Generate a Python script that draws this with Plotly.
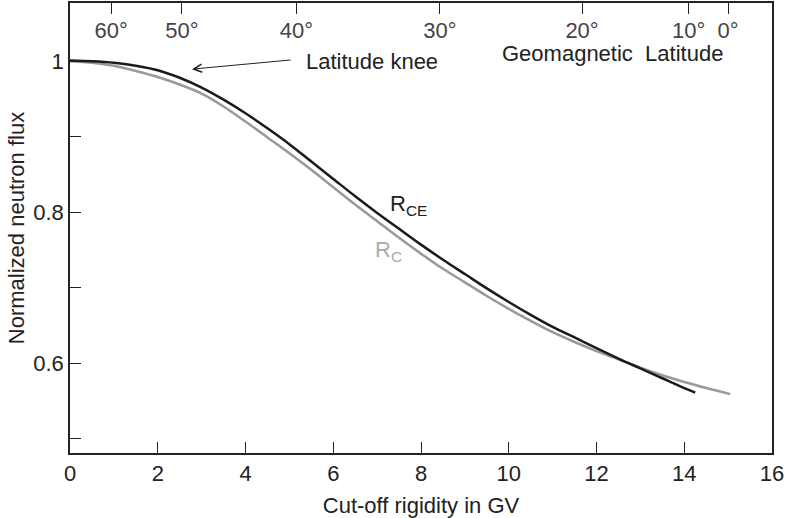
import plotly.graph_objects as go

# Cut-off rigidity (GV) and normalized neutron flux
rce_x = [0, 0.5, 1.0, 1.5, 2.0, 2.5, 3.0, 3.5, 4.0, 4.5, 5.0, 5.5, 6.0, 6.5, 7.0, 7.5,
         8.0, 8.5, 9.0, 9.5, 10.0, 10.5, 11.0, 11.5, 12.0, 12.5, 13.0, 13.5, 14.0, 14.25]
rce_y = [1.001, 1.000, 0.998, 0.994, 0.988, 0.978, 0.965, 0.949, 0.931, 0.911, 0.890, 0.867,
         0.844, 0.821, 0.799, 0.778, 0.757, 0.737, 0.718, 0.699, 0.681, 0.664, 0.648, 0.634,
         0.620, 0.606, 0.593, 0.580, 0.567, 0.561]

rc_x = [0, 0.5, 1.0, 1.5, 2.0, 2.5, 3.0, 3.5, 4.0, 4.5, 5.0, 5.5, 6.0, 6.5, 7.0, 7.5,
        8.0, 8.5, 9.0, 9.5, 10.0, 10.5, 11.0, 11.5, 12.0, 12.5, 13.0, 13.5, 14.0, 14.5, 15.05]
rc_y = [1.000, 0.998, 0.994, 0.987, 0.979, 0.969, 0.957, 0.940, 0.920, 0.899, 0.878, 0.856,
        0.833, 0.810, 0.788, 0.766, 0.745, 0.725, 0.707, 0.689, 0.672, 0.656, 0.641, 0.628,
        0.616, 0.605, 0.594, 0.584, 0.575, 0.567, 0.559]

# Geomagnetic latitude scale (top)
lat_pos = [0.94, 2.55, 5.16, 8.43, 11.67, 14.1, 15.0]
lat_labels = ["60°", "50°", "40°", "30°", "20°", "10°", "0°"]

x_ticks = [0, 2, 4, 6, 8, 10, 12, 14, 16]
y_ticks = [0.6, 0.8, 1.0]
y_labels = ["0.6", "0.8", "1"]
y_minor = [0.5, 0.7, 0.9]

FONT = "Liberation Sans, Arial, sans-serif"
TXT = "#222222"
FS = 22

fig = go.Figure()
fig.add_trace(go.Scatter(x=rc_x, y=rc_y, mode="lines", line=dict(color="#999999", width=2.5, shape="spline", smoothing=0.8),
                         showlegend=False, hoverinfo="skip"))
fig.add_trace(go.Scatter(x=rce_x, y=rce_y, mode="lines", line=dict(color="#1a1a1a", width=2.5, shape="spline", smoothing=0.8),
                         showlegend=False, hoverinfo="skip"))
# invisible trace for top axis
fig.add_trace(go.Scatter(x=[0, 16], y=[0.5, 0.5], xaxis="x2", mode="lines",
                         line=dict(width=0), showlegend=False, hoverinfo="skip", opacity=0))

fig.update_layout(
    width=786, height=518,
    margin=dict(l=70, r=14, t=3, b=65),
    plot_bgcolor="white", paper_bgcolor="white",
    font=dict(family=FONT, size=FS, color=TXT),
    xaxis=dict(range=[0, 16], tickvals=x_ticks, ticks="inside", ticklen=11, tickwidth=1.3,
               tickcolor="#222", showline=True, linecolor="#222", linewidth=1.5, mirror=True,
               showgrid=False, zeroline=False, automargin=False,
               title=dict(text="Cut-off rigidity in GV", standoff=14, font=dict(size=FS)),
               tickfont=dict(size=FS)),
    yaxis=dict(range=[0.481, 1.077], tickvals=y_ticks, ticktext=y_labels, ticks="inside",
               ticklen=11, tickwidth=1.3, tickcolor="#222", showline=True, linecolor="#222",
               linewidth=1.5, mirror=True, showgrid=False, zeroline=False, automargin=False,
               minor=dict(tickvals=y_minor, ticks="inside", ticklen=11, tickwidth=1.3,
                          tickcolor="#222", showgrid=False),
               title=dict(text="Normalized neutron flux", standoff=3, font=dict(size=FS)),
               tickfont=dict(size=FS)),
    xaxis2=dict(range=[0, 16], overlaying="x", side="top", tickvals=lat_pos, ticktext=lat_labels,
                ticks="inside", ticklen=11, tickwidth=1.3, tickcolor="#222",
                ticklabelposition="inside", ticklabelstandoff=10, showline=False, showgrid=False,
                zeroline=False, automargin=False, tickfont=dict(size=FS)),
)

fig.add_annotation(x=2.78, y=0.9894, ax=5.06, ay=1.0017, axref="x", ayref="y", xref="x", yref="y",
                   text="", showarrow=True, arrowhead=5, arrowsize=1.6, arrowwidth=1, arrowcolor="#222")
fig.add_annotation(x=5.34, y=1.000, xref="x", yref="y", text="Latitude knee", showarrow=False,
                   xanchor="left", yanchor="middle", font=dict(size=FS, color=TXT))
fig.add_annotation(x=14.92, y=1.0106, xref="x", yref="y", text="Geomagnetic  Latitude", showarrow=False,
                   xanchor="right", yanchor="middle", font=dict(size=FS, color=TXT))
fig.add_annotation(x=7.25, y=0.809, xref="x", yref="y", text="R<sub>CE</sub>", showarrow=False,
                   xanchor="left", yanchor="middle", font=dict(size=FS, color=TXT))
fig.add_annotation(x=6.9, y=0.749, xref="x", yref="y", text="R<sub>C</sub>", showarrow=False,
                   xanchor="left", yanchor="middle", font=dict(size=FS, color="#aaaaaa"))

fig.write_html("out.html", config={"displayModeBar": False},
               post_script="document.body.style.margin='0';")
